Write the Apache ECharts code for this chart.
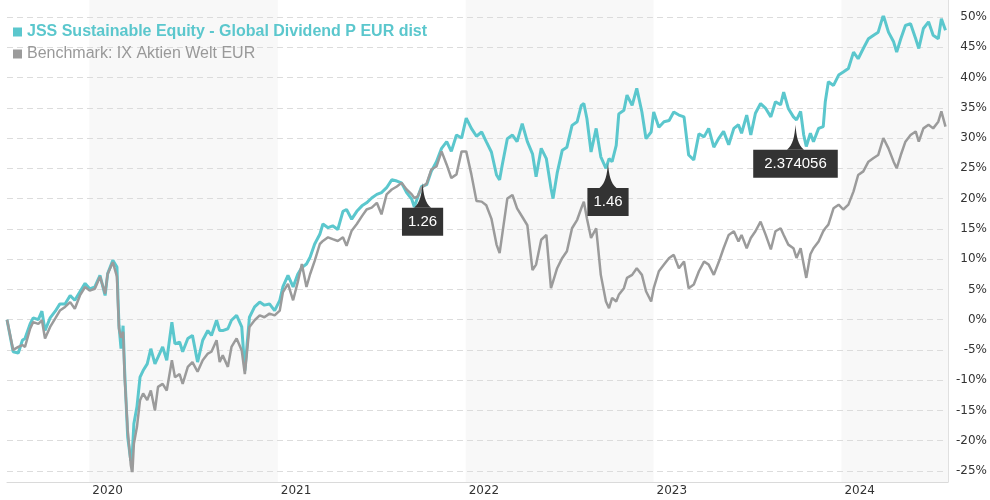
<!DOCTYPE html>
<html><head><meta charset="utf-8">
<script src="https://cdn.jsdelivr.net/npm/echarts@6/dist/echarts.min.js"></script>
<style>html,body{margin:0;padding:0;background:#fff}#c{width:990px;height:500px}</style>
</head><body><div id="c"></div>
<script>
const fundName = 'JSS Sustainable Equity - Global Dividend P EUR dist';
const benchName = 'Benchmark: IX Aktien Welt EUR';

const dates = [
'2019-07-25','2019-08-06','2019-08-16','2019-08-24','2019-08-29','2019-09-08','2019-09-14','2019-09-24','2019-10-01','2019-10-07',
'2019-10-17','2019-10-27','2019-11-05','2019-11-15','2019-11-25','2019-12-04','2019-12-14','2019-12-24','2020-01-02','2020-01-12',
'2020-01-22','2020-02-01','2020-02-06','2020-02-16','2020-02-24','2020-02-28','2020-03-03','2020-03-07','2020-03-10','2020-03-16',
'2020-03-22','2020-03-25','2020-03-28','2020-04-03','2020-04-09','2020-04-15','2020-04-23','2020-04-30','2020-05-08','2020-05-14',
'2020-05-23','2020-05-31','2020-06-10','2020-06-16','2020-06-25','2020-07-01','2020-07-11','2020-07-20','2020-07-30','2020-08-09',
'2020-08-19','2020-08-26','2020-09-05','2020-09-11','2020-09-17','2020-09-27','2020-10-04','2020-10-14','2020-10-24','2020-10-30',
'2020-11-08','2020-11-18','2020-11-28','2020-12-07','2020-12-17','2020-12-27','2021-01-06','2021-01-12','2021-01-22','2021-02-01',
'2021-02-10','2021-02-18','2021-02-27','2021-03-06','2021-03-15','2021-03-25','2021-03-31','2021-04-10','2021-04-19','2021-04-29',
'2021-05-09','2021-05-16','2021-05-26','2021-06-05','2021-06-15','2021-06-24','2021-07-04','2021-07-14','2021-07-23','2021-08-02',
'2021-08-12','2021-08-22','2021-08-31','2021-09-10','2021-09-20','2021-09-25','2021-10-01','2021-10-09','2021-10-19','2021-10-28',
'2021-11-07','2021-11-17','2021-11-27','2021-12-06','2021-12-16','2021-12-26','2022-01-04','2022-01-14','2022-01-24','2022-02-03',
'2022-02-12','2022-02-22','2022-03-04','2022-03-10','2022-03-15','2022-03-25','2022-04-04','2022-04-13','2022-04-23','2022-05-03',
'2022-05-13','2022-05-20','2022-05-30','2022-06-09','2022-06-18','2022-06-22','2022-06-30','2022-07-10','2022-07-19','2022-07-29',
'2022-08-08','2022-08-16','2022-08-21','2022-08-27','2022-09-04','2022-09-14','2022-09-23','2022-10-03','2022-10-09','2022-10-15',
'2022-10-23','2022-10-28','2022-11-07','2022-11-13','2022-11-23','2022-12-02','2022-12-12','2022-12-20','2022-12-30','2023-01-04',
'2023-01-14','2023-01-24','2023-02-03','2023-02-12','2023-02-22','2023-03-04','2023-03-13','2023-03-23','2023-04-02','2023-04-12',
'2023-04-21','2023-05-01','2023-05-11','2023-05-20','2023-05-30','2023-06-09','2023-06-18','2023-06-24','2023-07-04','2023-07-12',
'2023-07-21','2023-07-31','2023-08-10','2023-08-20','2023-08-29','2023-09-08','2023-09-14','2023-09-23','2023-10-03','2023-10-09',
'2023-10-17','2023-10-23','2023-10-28','2023-11-05','2023-11-11','2023-11-21','2023-11-30','2023-12-04','2023-12-10','2023-12-20',
'2023-12-30','2024-01-08','2024-01-18','2024-01-28','2024-02-06','2024-02-16','2024-02-26','2024-03-07','2024-03-16','2024-03-26',
'2024-04-05','2024-04-15','2024-04-21','2024-04-29','2024-05-08','2024-05-18','2024-05-28','2024-06-03','2024-06-12','2024-06-22',
'2024-07-01','2024-07-11','2024-07-17','2024-07-25'
];

const fund = [
0,-5.3,-5.5,-3.4,-3.1,-0.7,0.3,0.0,1.4,-1.8,
0.3,1.4,2.6,2.6,4.0,3.2,4.6,6.0,5.1,5.4,
7.3,4.0,7.6,9.8,8.7,-1.0,-4.8,-1.0,-8.4,-19.4,
-23.3,-22.0,-17.2,-14.4,-9.5,-8.4,-7.3,-4.8,-7.3,-6.2,
-4.5,-6.7,-0.4,-4.0,-3.7,-5.3,-3.1,-2.6,-7.0,-3.4,
-1.8,-2.6,-0.1,-1.8,-1.8,-1.5,-0.1,0.7,-1.2,-8.4,
0.4,2.1,2.9,2.4,2.6,1.5,3.2,5.4,7.3,5.4,
7.5,8.6,9.2,10.3,12.5,14.1,15.8,15.2,15.5,14.9,
17.9,18.2,16.6,17.9,18.8,19.3,20.1,20.7,21.0,21.8,
23.1,22.9,22.6,21.0,19.9,18.6,20.1,22.0,22.3,24.5,
26.1,28.3,29.4,27.8,30.5,30.0,33.3,31.6,30.3,31.0,
29.4,27.7,23.9,23.1,25.5,29.9,30.5,29.4,32.4,29.4,
27.4,23.6,28.3,26.6,21.7,20.0,24.2,28.0,28.5,32.1,
32.7,35.4,35.7,33.2,27.7,31.6,26.9,25.0,26.6,26.1,
28.8,34.0,34.6,37.1,35.4,38.2,34.3,29.9,31.0,34.3,
31.8,32.7,32.9,34.3,33.8,33.5,27.2,26.4,30.7,30.2,
31.6,28.5,30.0,31.1,28.9,31.6,32.2,30.8,33.8,30.5,
34.1,35.7,34.9,33.5,36.0,35.5,37.6,34.9,33.5,33.0,
34.4,30.5,28.6,30.8,29.4,31.6,31.9,36.0,39.3,38.7,
40.4,40.9,41.5,44.2,43.1,44.8,46.4,47.0,47.5,50.3,
47.5,45.9,44.2,46.4,48.6,48.9,46.4,44.8,48.1,49.2,
47.0,46.4,49.7,47.8
];

const bench = [
0,-5.0,-4.5,-4.2,-4.5,-1.5,-0.4,-0.7,-0.1,-3.1,
-1.2,0.2,1.5,2.1,2.9,1.8,4.0,5.4,4.8,5.1,
7.1,4.3,7.6,9.5,7.1,-1.5,-3.0,-2.0,-9.5,-18.3,
-24.0,-25.5,-20.5,-17.7,-13.3,-12.2,-13.3,-11.7,-15.0,-11.1,
-10.6,-11.7,-6.7,-9.5,-9.0,-10.6,-7.8,-7.0,-8.6,-6.7,
-5.6,-5.3,-3.4,-7.0,-5.9,-7.8,-4.5,-3.1,-5.1,-9.0,
-1.2,-0.1,0.7,0.4,1.0,0.7,1.5,4.5,5.9,3.2,
6.2,9.2,5.4,7.5,9.7,12.5,13.0,13.6,13.3,13.0,
13.6,12.2,14.7,15.8,17.1,18.2,18.5,19.3,17.4,20.7,
21.5,22.0,22.6,21.5,20.7,20.1,20.3,21.8,22.5,24.8,
25.3,27.8,25.6,23.4,24.0,27.8,27.8,24.0,19.6,19.5,
18.9,16.7,12.4,11.0,14.0,20.0,20.6,18.4,17.0,15.6,
8.2,9.1,13.2,14.0,5.2,6.3,8.5,10.2,11.3,15.1,
16.5,18.4,19.5,16.7,13.5,15.1,7.4,3.0,1.9,3.6,
3.0,4.1,5.2,6.9,7.4,8.5,7.4,4.7,3.0,5.2,
8.0,9.1,10.2,10.7,8.5,9.6,5.2,5.8,8.0,9.6,
9.1,7.4,9.6,11.8,14.0,14.6,12.9,14.0,11.8,13.5,
14.6,16.2,14.0,11.6,14.6,15.1,14.0,12.4,11.8,10.2,
11.8,9.1,6.9,10.8,11.8,12.9,14.6,15.1,15.7,18.4,
19.0,18.2,19.0,21.2,23.9,24.5,26.1,26.7,27.2,30.0,
28.3,26.1,25.0,27.2,29.4,30.5,31.1,29.4,31.6,32.2,
31.6,32.7,34.4,31.9
];

const dividendDates = ['2021-10-11', '2022-10-07', '2023-10-07'];
const dividendLevels = [22.6, 25.9, 32.2];
const dividendLabels = ['1.26', '1.46', '2.374056'];

const yearTicks = ['2020-01-01', '2021-01-01', '2022-01-01', '2023-01-01', '2024-01-01'];
const shadedStarts = ['2020-01-01', '2022-01-01', '2024-01-01'];
const shadedEnds = ['2021-01-01', '2023-01-01', '2024-07-26'];
const xMin = '2019-07-25';
const xMax = '2024-07-26';
const yMin = -25, yMax = 50, yStep = 5;

const TEAL = '#5bc7cd';
const GREY = '#9b9b9b';
const AXIS_FONT = 'DejaVu Sans';

const chart = echarts.init(document.getElementById('c'), null, {renderer: 'canvas'});
const ts = s => echarts.time.parse(s).getTime();

chart.setOption({
  animation: false,
  backgroundColor: '#fff',
  legend: {
    orient: 'vertical', left: 8, top: 19, itemGap: 6,
    icon: 'rect', itemWidth: 9, itemHeight: 9, selectedMode: false,
    textStyle: {fontSize: 16, fontFamily: 'Liberation Sans', lineHeight: 16},
    data: [
      {name: fundName, textStyle: {color: TEAL, fontWeight: 'bold'}},
      {name: benchName, textStyle: {color: '#999999'}}
    ]
  },
  grid: [
    {left: 7, right: 42, top: 0, bottom: 18},
    {left: 7, right: 42, top: 17, bottom: 29}
  ],
  xAxis: [
    {gridIndex: 0, type: 'value', min: ts(xMin), max: ts(xMax),
     axisLine: {show: true, lineStyle: {color: '#dadada', width: 1}},
     axisTick: {show: false},
     splitLine: {show: false},
     axisLabel: {customValues: yearTicks.map(ts), formatter: v => String(new Date(v).getFullYear()),
       align: 'left', padding: [0, 0, 0, 3], margin: 3, color: '#333', fontFamily: AXIS_FONT, fontSize: 12,
       showMinLabel: true, showMaxLabel: true}},
    {gridIndex: 1, type: 'value', min: ts(xMin), max: ts(xMax), show: false, splitLine: {show: false}}
  ],
  yAxis: [
    {gridIndex: 0, type: 'value', min: 0, max: 1, position: 'right',
     axisLine: {show: true, lineStyle: {color: '#e0e0e0'}}, axisTick: {show: false},
     axisLabel: {show: false}, splitLine: {show: false}},
    {gridIndex: 1, type: 'value', min: yMin, max: yMax, interval: yStep, position: 'right', z: 3,
     axisLine: {show: false}, axisTick: {show: false},
     splitLine: {show: true, lineStyle: {color: '#dcdcdc', type: [6, 4], width: 1}},
     axisLabel: {formatter: '{value}%', align: 'right', margin: 41, color: '#333', fontFamily: AXIS_FONT, fontSize: 12}}
  ],
  series: [
    {type: 'line', xAxisIndex: 0, yAxisIndex: 0, data: [], z: 0, silent: true,
     markArea: {silent: true, z: 1, itemStyle: {color: '#f8f8f8'},
       data: shadedStarts.map((s, i) => [{xAxis: ts(s)}, {xAxis: ts(shadedEnds[i])}])}},
    {name: fundName, type: 'line', xAxisIndex: 1, yAxisIndex: 1, z: 4,
     data: dates.map((d, i) => [ts(d), fund[i]]),
     symbol: 'none', showSymbol: false,
     lineStyle: {color: TEAL, width: 3}, itemStyle: {color: TEAL},
     markPoint: {
       z: 10, silent: true,
       symbol: 'path://M10,0 C11,12 13,21 20,26 L0,26 C7,21 9,12 10,0 Z',
       symbolSize: [17, 25], symbolOffset: [0, 12.5],
       itemStyle: {color: '#333'},
       label: {show: true, position: 'bottom', distance: 0, formatter: '{b}',
         color: '#fff', fontSize: 15, fontFamily: 'Liberation Sans',
         backgroundColor: '#333', padding: [6, 6], lineHeight: 16},
       data: dividendDates.map((d, i) => ({
         name: dividendLabels[i], coord: [ts(d), dividendLevels[i]],
         label: dividendLabels[i].length > 5 ? {padding: [6, 11]} : {}
       }))
     }},
    {name: benchName, type: 'line', xAxisIndex: 1, yAxisIndex: 1, z: 5,
     data: dates.map((d, i) => [ts(d), bench[i]]),
     symbol: 'none', showSymbol: false,
     lineStyle: {color: GREY, width: 2.5}, itemStyle: {color: GREY}}
  ]
});
</script>
</body></html>
